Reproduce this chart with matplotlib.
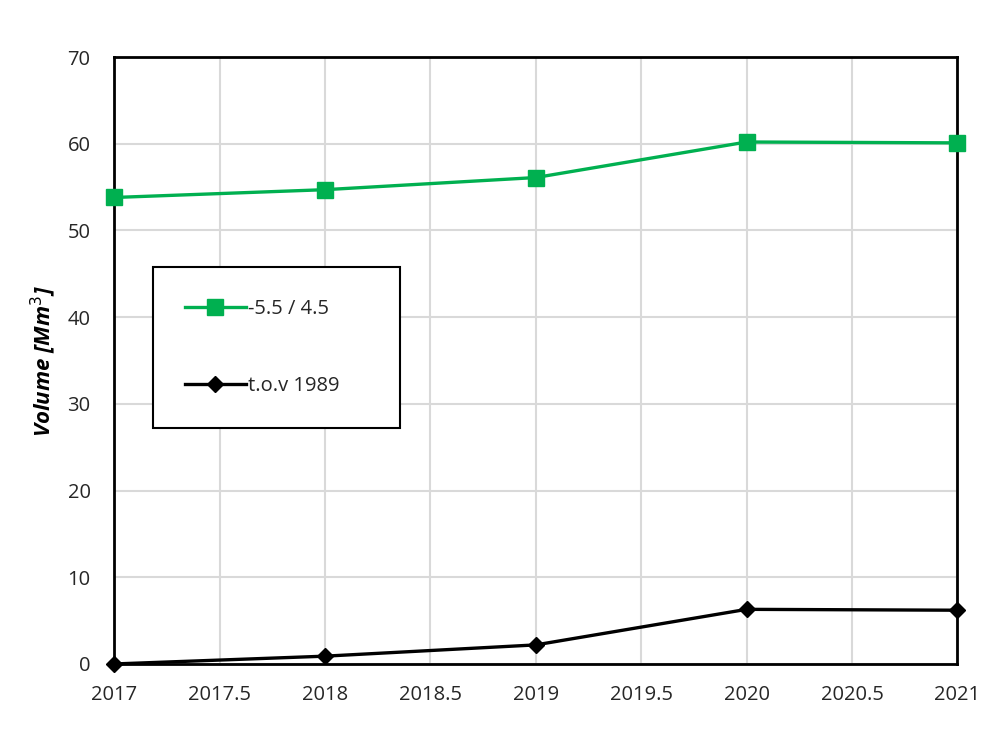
import matplotlib
matplotlib.use("Agg")
import matplotlib.pyplot as plt
from matplotlib.ticker import MultipleLocator, FuncFormatter

years = [2017, 2018, 2019, 2020, 2021]
vol_green = [53.8, 54.7, 56.1, 60.2, 60.1]
vol_black = [0.0, 0.9, 2.2, 6.3, 6.2]
labels = ['-5.5 / 4.5', 't.o.v 1989']

plt.rcParams['font.family'] = ['Open Sans', 'DejaVu Sans']

fig = plt.figure(figsize=(9.84, 7.31), dpi=100)
ax = fig.add_axes([0.116, 0.0917, 0.857, 0.8303])

ax.plot(years, vol_green, '-s', color='#00b050', linewidth=2.4,
        markersize=11, label=labels[0], clip_on=False, zorder=3)
ax.plot(years, vol_black, '-D', color='black', linewidth=2.4,
        markersize=8, label=labels[1], clip_on=False, zorder=3)

ax.set_xlim(2017, 2021)
ax.set_ylim(0, 70)
ax.xaxis.set_major_locator(MultipleLocator(0.5))
ax.yaxis.set_major_locator(MultipleLocator(10))
ax.xaxis.set_major_formatter(FuncFormatter(lambda v, p: f"{v:g}"))
ax.yaxis.set_major_formatter(FuncFormatter(lambda v, p: f"{v:g}"))
ax.tick_params(length=0, labelsize=14.5, colors='#262626')
ax.tick_params(axis='x', pad=15)
ax.tick_params(axis='y', pad=17)
ax.grid(True, color='#d9d9d9', linewidth=1.5)
ax.set_axisbelow(True)
for s in ax.spines.values():
    s.set_color('black')
    s.set_linewidth(2)

ax.set_ylabel('Volume [Mm$^3$]', fontsize=16, fontweight='bold',
              fontstyle='italic', labelpad=7)

leg = ax.legend(loc='upper left', bbox_to_anchor=(0.046, 0.395, 0.293, 0.259),
                mode='expand', fontsize=14.5, labelspacing=2.8,
                handlelength=3.0, handletextpad=0.1, borderpad=1.6,
                borderaxespad=0, fancybox=False, framealpha=1,
                edgecolor='black')
leg.get_frame().set_linewidth(1.5)
for t in leg.get_texts():
    t.set_color('#262626')

fig.savefig('out.png', dpi=100)
